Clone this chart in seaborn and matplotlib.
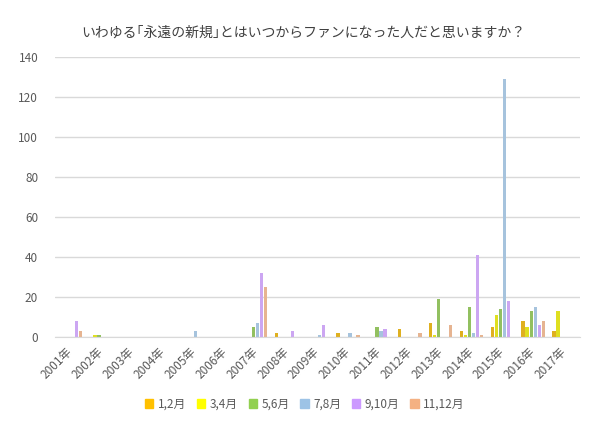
import pandas as pd
import numpy as np
import matplotlib.pyplot as plt
import matplotlib.transforms as mtransforms
import seaborn as sns

sns.set_style("white")
plt.rcParams["font.family"] = ["Noto Sans CJK JP", "DejaVu Sans"]

years = ["2001年", "2002年", "2003年", "2004年", "2005年", "2006年", "2007年", "2008年", "2009年",
         "2010年", "2011年", "2012年", "2013年", "2014年", "2015年", "2016年", "2017年"]
months = ["1,2月", "3,4月", "5,6月", "7,8月", "9,10月", "11,12月"]
colors = ["#FFC000", "#FFFF00", "#92D050", "#9DC3E6", "#CC99FF", "#F4B183"]

# 各期間の人数（年ごと）
m12   = [0, 0, 0, 0, 0, 0, 0, 2, 0, 2, 0, 4, 7, 3, 5, 8, 3]
m34   = [0, 1, 0, 0, 0, 0, 0, 0, 0, 0, 0, 0, 1, 1, 11, 5, 13]
m56   = [0, 1, 0, 0, 0, 0, 5, 0, 0, 0, 5, 0, 19, 15, 14, 13, 0]
m78   = [0, 0, 0, 0, 3, 0, 7, 0, 1, 2, 3, 0, 0, 2, 129, 15, 0]
m910  = [8, 0, 0, 0, 0, 0, 32, 3, 6, 0, 4, 0, 0, 41, 18, 6, 0]
m1112 = [3, 0, 0, 0, 0, 0, 25, 0, 0, 1, 0, 2, 6, 1, 0, 8, 0]

series = [m12, m34, m56, m78, m910, m1112]
rows = []
for name, vals in zip(months, series):
    for y, v in zip(years, vals):
        rows.append({"年": y, "期間": name, "人数": v})
df = pd.DataFrame(rows)

fig = plt.figure(figsize=(6.1, 4.32), dpi=100)
ax = fig.add_axes([0.09, 0.22, 0.86, 0.648])

sns.barplot(data=df, x="年", y="人数", hue="期間", order=years, hue_order=months,
            palette=colors, width=0.78, gap=0.15, linewidth=0, ax=ax, legend=False)

ax.set_ylim(0, 140)
ax.set_yticks(np.arange(0, 141, 20))
ax.set_xlim(-0.5, 16.5)
ax.yaxis.grid(True, color="#D9D9D9", linewidth=1)
ax.set_axisbelow(True)
for s in ax.spines.values():
    s.set_visible(False)
ax.spines["bottom"].set_visible(True)
ax.spines["bottom"].set_color("#D9D9D9")
ax.set_xlabel("")
ax.set_ylabel("")
ax.tick_params(axis="both", length=0, labelsize=8.5, labelcolor="#595959")
ax.tick_params(axis="y", pad=12)
ax.tick_params(axis="x", pad=6)
shift = mtransforms.ScaledTranslation(-3 / 72, 0, fig.dpi_scale_trans)
for lbl in ax.get_xticklabels():
    lbl.set_rotation(45)
    lbl.set_ha("right")
    lbl.set_rotation_mode("anchor")
    lbl.set_transform(lbl.get_transform() + shift)

fig.suptitle("いわゆる｢永遠の新規｣とはいつからファンになった人だと思いますか？",
             x=0.497, y=0.94, fontsize=10, color="#404040")

handles = [plt.Rectangle((0, 0), 1, 1, color=c) for c in colors]
fig.legend(handles, months, loc="lower center", bbox_to_anchor=(0.5, 0.025), ncol=6,
           frameon=False, fontsize=8.5, labelcolor="#595959", handlelength=0.7,
           handleheight=0.7, handletextpad=0.4, columnspacing=0.9)

fig.savefig("out.png", dpi=100)
